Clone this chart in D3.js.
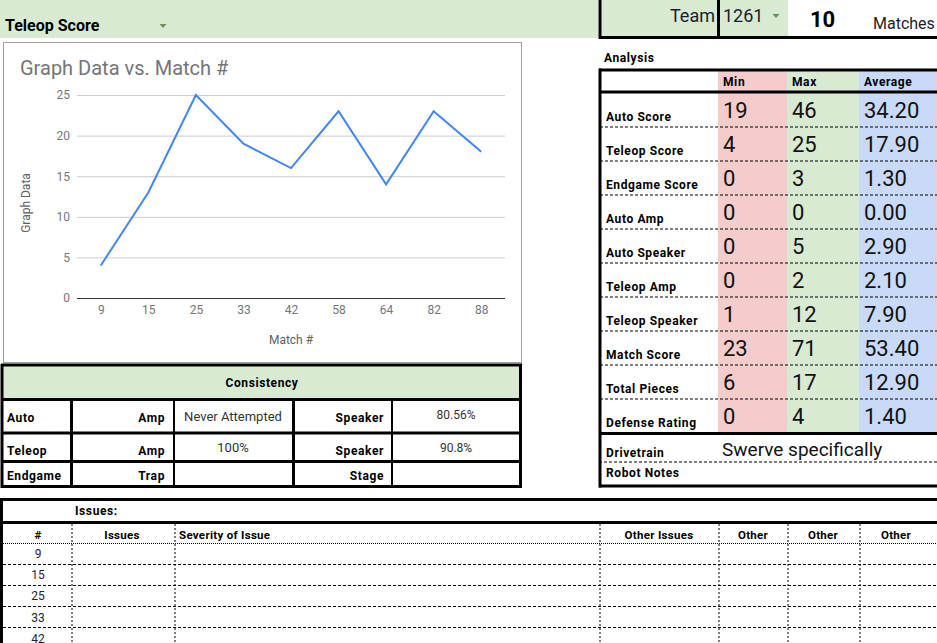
<!DOCTYPE html>
<html>
<head>
<meta charset="utf-8">
<script src="https://cdn.jsdelivr.net/npm/d3@7"></script>
<style>
  body { margin: 0; background: #fff; }
  svg { display: block; font-family: Roboto, Arial, sans-serif; }
</style>
</head>
<body>
<div id="sheet"></div>
<script>
// Data
const matches = ["9", "15", "25", "33", "42", "58", "64", "82", "88"];
const teleopScores = [4, 13, 25, 19, 16, 23, 14, 23, 18];
const yTicks = [0, 5, 10, 15, 20, 25];

const statNames = ["Auto Score", "Teleop Score", "Endgame Score", "Auto Amp", "Auto Speaker",
    "Teleop Amp", "Teleop Speaker", "Match Score", "Total Pieces", "Defense Rating"];
const statMin = [19, 4, 0, 0, 0, 0, 1, 23, 6, 0];
const statMax = [46, 25, 3, 0, 5, 2, 12, 71, 17, 4];
const statAvg = [34.2, 17.9, 1.3, 0, 2.9, 2.1, 7.9, 53.4, 12.9, 1.4];
const statHeaders = ["Min", "Max", "Average"];

const consRows = ["Auto", "Teleop", "Endgame"];
const consLeft = ["Amp", "Amp", "Trap"];
const consLeftVal = ["Never Attempted", "100%", ""];
const consRight = ["Speaker", "Speaker", "Stage"];
const consRightVal = ["80.56%", "90.8%", ""];

const issueHeaders = ["#", "Issues", "Severity of Issue", "Other Issues", "Other", "Other", "Other"];

const W = 937, H = 643;
const svg = d3.select("#sheet").append("svg")
    .attr("width", W)
    .attr("height", H);

svg.append("rect").attr("width", W).attr("height", H).attr("fill", "#fff");

const green = "#d9ead3", pink = "#f4cccc", blue = "#c9daf8", purple = "#d9d2e9";

// small drawing helpers
function hline(x1, x2, y, w, dash) {
    const l = svg.append("line")
        .attr("x1", x1).attr("x2", x2).attr("y1", y).attr("y2", y)
        .attr("stroke", "#000").attr("stroke-width", w);
    if (dash) l.attr("stroke-dasharray", dash);
    return l;
}
function vline(x, y1, y2, w, dash) {
    const l = svg.append("line")
        .attr("x1", x).attr("x2", x).attr("y1", y1).attr("y2", y2)
        .attr("stroke", "#000").attr("stroke-width", w);
    if (dash) l.attr("stroke-dasharray", dash);
    return l;
}
function txt(x, y, s, size, opts = {}) {
    return svg.append("text")
        .attr("x", x).attr("y", y)
        .attr("font-size", size)
        .attr("font-weight", opts.bold ? 700 : 400)
        .attr("letter-spacing", opts.spacing || 0)
        .attr("text-anchor", opts.anchor || "start")
        .attr("fill", opts.fill || "#000")
        .text(s);
}
// bold cell label, sheets draws these a bit wider than plain Roboto
function label(x, y, s, opts = {}) {
    return txt(x, y, s, 12, Object.assign({ bold: true, spacing: 0.6 }, opts));
}
function arrow(cx, cy) {
    svg.append("path")
        .attr("d", `M${cx - 3.5},${cy - 2} L${cx + 3.5},${cy - 2} L${cx},${cy + 2} Z`)
        .attr("fill", "#6b8f5e");
}

// -----------------------------
// Top header
// -----------------------------
svg.append("rect").attr("x", 0).attr("y", 0).attr("width", 598).attr("height", 38).attr("fill", green);
txt(5, 31, "Teleop Score", 16, { bold: true });
arrow(163, 26);

svg.append("rect").attr("x", 601).attr("y", 0).attr("width", 117).attr("height", 36).attr("fill", green);
svg.append("rect").attr("x", 720).attr("y", 0).attr("width", 68).attr("height", 36).attr("fill", green);
vline(600, 0, 39, 3);
vline(718.5, 0, 39, 3);
hline(599, W, 37.5, 3);
txt(715, 22, "Team", 18, { anchor: "end", fill: "#1c1c2c" });
txt(723, 22, "1261", 18, { fill: "#1c1c2c" });
arrow(776, 16);
txt(810, 27, "10", 22, { bold: true });
txt(873, 29, "Matches", 16, { fill: "#1c1c2c" });

// -----------------------------
// Chart
// -----------------------------
svg.append("rect").attr("x", 3.5).attr("y", 42.5).attr("width", 518).attr("height", 320)
    .attr("fill", "#fff").attr("stroke", "#9e9e9e");

txt(20, 75, "Graph Data vs. Match #", 20, { fill: "#757575" });

const x = d3.scalePoint().domain(matches).range([77, 505]).padding(0.5);
const y = d3.scaleLinear().domain([0, 25]).range([298, 95]);

const yAxis = svg.append("g")
    .attr("transform", "translate(77,0)")
    .call(d3.axisLeft(y).tickValues(yTicks).tickSize(-(505 - 77)).tickPadding(7));
yAxis.select(".domain").remove();
yAxis.selectAll(".tick line").attr("stroke", d => d === 0 ? "#333" : "#ccc");
yAxis.selectAll(".tick text").attr("font-size", 12).attr("fill", "#757575")
    .attr("font-family", "Roboto, Arial, sans-serif");

const xAxis = svg.append("g")
    .attr("transform", "translate(0,298)")
    .call(d3.axisBottom(x).tickSize(0).tickPadding(7));
xAxis.select(".domain").remove();
xAxis.selectAll(".tick text").attr("font-size", 12).attr("fill", "#757575")
    .attr("font-family", "Roboto, Arial, sans-serif");

svg.append("path")
    .datum(teleopScores)
    .attr("fill", "none")
    .attr("stroke", "#4285f4")
    .attr("stroke-width", 2)
    .attr("stroke-linejoin", "miter")
    .attr("d", d3.line().x((d, i) => x(matches[i])).y(d => y(d)));

svg.append("text")
    .attr("transform", "translate(30,203) rotate(-90)")
    .attr("text-anchor", "middle")
    .attr("font-size", 12).attr("fill", "#616161")
    .text("Graph Data");
txt(291, 344, "Match #", 12, { anchor: "middle", fill: "#616161" });

// -----------------------------
// Analysis table
// -----------------------------
label(604, 62, "Analysis");

const colX = [718, 787, 859];
const colFill = [pink, green, blue];
const rowY = d3.scaleLinear().domain([0, statNames.length]).range([93, 433]);

colX.forEach((cx, i) => {
    const right = i < 2 ? colX[i + 1] : 934;
    svg.append("rect").attr("x", cx).attr("y", 70).attr("width", right - cx).attr("height", 363)
        .attr("fill", colFill[i]);
});
svg.append("rect").attr("x", 934).attr("y", 70).attr("width", 3).attr("height", 363).attr("fill", purple);

statHeaders.forEach((h, i) => label(colX[i] + 5, 86, h));

d3.range(1, statNames.length).forEach(i => hline(600, W, rowY(i), 1.2, "3,2"));

const fmtAvg = d3.format(".2f");
statNames.forEach((name, i) => {
    const bottom = rowY(i + 1);
    label(606, bottom - 6, name);
    txt(colX[0] + 5, bottom - 9, statMin[i], 22, { fill: "#111" });
    txt(colX[1] + 5, bottom - 9, statMax[i], 22, { fill: "#111" });
    txt(colX[2] + 5, bottom - 9, fmtAvg(statAvg[i]), 22, { fill: "#111" });
});

hline(599, W, 70, 3);
hline(599, W, 92, 3);
hline(599, W, 433.5, 3);
hline(599, W, 462, 1.2, "3,2");
hline(599, W, 486, 3);
vline(600, 68.5, 487.5, 3);

label(606, 457, "Drivetrain");
txt(722, 456, "Swerve specifically", 19, { fill: "#111" });
label(606, 477, "Robot Notes");

// -----------------------------
// Consistency table
// -----------------------------
svg.append("rect").attr("x", 3).attr("y", 366).attr("width", 517).attr("height", 33).attr("fill", green);
label(262, 387, "Consistency", { anchor: "middle" });

const consY = [399.5, 433, 461.5, 486.5];
hline(1, 522, 365, 3);
consY.forEach(yy => hline(1, 522, yy, 3));
vline(2, 364, 488, 3);
vline(520.5, 364, 488, 3);
vline(71.5, 399, 488, 3);
vline(174, 399, 488, 2);
vline(293.5, 399, 488, 3);
vline(392, 399, 488, 2);

const consBase = [422, 455, 480];
consRows.forEach((r, i) => {
    label(7, consBase[i], r);
    label(165, consBase[i], consLeft[i], { anchor: "end" });
    txt(233, consBase[i] - (i === 0 ? 1 : 3), consLeftVal[i], 13, { anchor: "middle", fill: "#333" });
    label(384, consBase[i], consRight[i], { anchor: "end" });
    txt(456, consBase[i] - 3, consRightVal[i], 12, { anchor: "middle", fill: "#333" });
});

// -----------------------------
// Issues table
// -----------------------------
hline(0, W, 499.5, 3);
hline(0, W, 522.5, 3);
vline(1.5, 498, H, 3);
label(75, 515, "Issues:");

const issueLines = [72, 175, 600, 719, 788, 860];
issueLines.forEach(xx => vline(xx, 524, H, 1, "2,2"));

const issueHeaderX = [38, 122, 179, 659, 753, 823, 896];
issueHeaders.forEach((h, i) => {
    txt(issueHeaderX[i], 539, h, 11.5, { bold: true, spacing: 0.3, anchor: i === 2 ? "start" : "middle" });
});

hline(3, W, 543.5, 1, "1,1");
[564.5, 585.5, 606.5, 627.5].forEach(yy => hline(3, W, yy, 1, "3,2"));

matches.slice(0, 5).forEach((m, i) => {
    txt(38, 558 + i * 21.2, m, 12, { anchor: "middle", fill: "#1f2335" });
});
</script>
</body>
</html>
